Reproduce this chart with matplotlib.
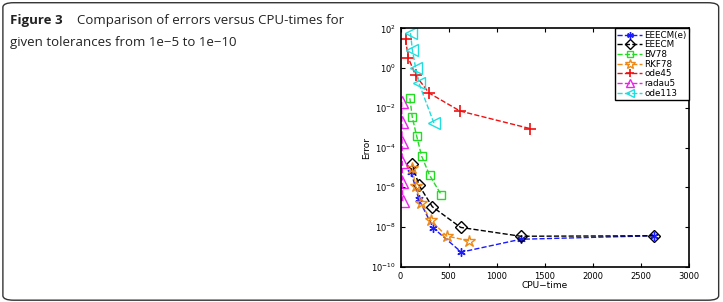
import numpy as np
import matplotlib.pyplot as plt
from matplotlib.patches import FancyBboxPatch

# data
eeecm_e_t = [111, 190, 340, 632, 1250, 2632]
eeecm_e_err = [5.6e-6, 2.5e-7, 8.9e-9, 5.4e-10, 2.4e-9, 3.6e-9]

eeecm_t = [122, 190, 330, 625, 1250, 2632]
eeecm_err = [1.5e-5, 1.3e-6, 1.05e-7, 9.5e-9, 3.4e-9, 3.6e-9]

bv78_t = [97, 122, 167, 219, 302, 424]
bv78_err = [3.0e-2, 3.4e-3, 3.9e-4, 3.7e-5, 4.0e-6, 4.1e-7]

rkf78_t = [122, 156, 215, 312, 479, 712]
rkf78_err = [8.9e-6, 1.15e-6, 1.55e-7, 2.2e-8, 3.5e-9, 2.0e-9]

ode45_t = [52, 80, 156, 295, 618, 1347]
ode45_err = [28, 3.4, 0.44, 0.056, 6.9e-3, 9.0e-4]

radau5_t = [12, 14, 16, 18, 20, 22]
radau5_err = [2.0e-2, 2.0e-3, 2.0e-4, 1.9e-5, 1.9e-6, 2.0e-7]

ode113_t = [104, 122, 156, 190, 347]
ode113_err = [58, 8.5, 1.07, 0.18, 1.7e-3]

fig = plt.figure(figsize=(7.23, 3.02), dpi=100)

# rounded frame around the whole figure
frame = FancyBboxPatch((0.004, 0.006), 0.99, 0.985,
                       boxstyle="round,pad=0,rounding_size=0.015",
                       transform=fig.transFigure, fill=False,
                       edgecolor='#333333', linewidth=1.0)
fig.patches.append(frame)

fig.text(0.014, 0.955, "Figure 3", fontsize=9.5, fontweight='bold',
         family='Open Sans', va='top', color='#222222')
fig.text(0.106, 0.955, "Comparison of errors versus CPU-times for",
         fontsize=9.5, family='Open Sans', va='top', color='#222222')
fig.text(0.014, 0.88, "given tolerances from 1e\u22125 to 1e\u221210",
         fontsize=9.5, family='Open Sans', va='top', color='#222222')

ax = fig.add_axes([0.554, 0.117, 0.399, 0.789])

ms = 6
ax.plot(eeecm_e_t, eeecm_e_err, '--', color='#1a1aff', lw=1,
        marker=(6, 2, 0), ms=ms, label='EEECM(e)')
ax.plot(eeecm_t, eeecm_err, '--', color='black', lw=1,
        marker='D', ms=ms, mfc='none', label='EEECM')
ax.plot(bv78_t, bv78_err, '--', color='#22dd22', lw=1,
        marker='s', ms=ms, mfc='none', label='BV78')
ax.plot(rkf78_t, rkf78_err, '--', color='#ee8a1a', lw=1,
        marker='*', ms=ms + 3, mfc='none', label='RKF78')
ax.plot(ode45_t, ode45_err, '--', color='#ee1111', lw=1,
        marker='+', ms=ms + 2, mew=1.2, label='ode45')
ax.plot(radau5_t, radau5_err, '--', color='#ee22ee', lw=1,
        marker='^', ms=ms + 2, mfc='none', label='radau5')
ax.plot(ode113_t, ode113_err, '--', color='#22dddd', lw=1,
        marker='<', ms=ms + 2, mfc='none', label='ode113')

ax.set_yscale('log')
ax.set_xlim(0, 3000)
ax.set_ylim(1e-10, 1e2)
ax.set_xticks([0, 500, 1000, 1500, 2000, 2500, 3000])
ax.set_yticks([1e-10, 1e-8, 1e-6, 1e-4, 1e-2, 1e0, 1e2])
ax.minorticks_off()
ax.tick_params(direction='in', top=True, right=True, labelsize=6, length=3)
for s in ax.spines.values():
    s.set_linewidth(1.2)

ax.set_xlabel('CPU\u2212time', fontsize=6.5, labelpad=0)
ax.set_ylabel('Error', fontsize=6.5, labelpad=0)

leg = ax.legend(loc='upper right', fontsize=6.3, handlelength=2.8,
                borderaxespad=0, borderpad=0.25, labelspacing=0.08,
                handletextpad=0.3, markerscale=0.8,
                fancybox=False, framealpha=1)
leg.get_frame().set_edgecolor('black')
leg.get_frame().set_linewidth(1.0)

fig.savefig('out.png', dpi=100)
